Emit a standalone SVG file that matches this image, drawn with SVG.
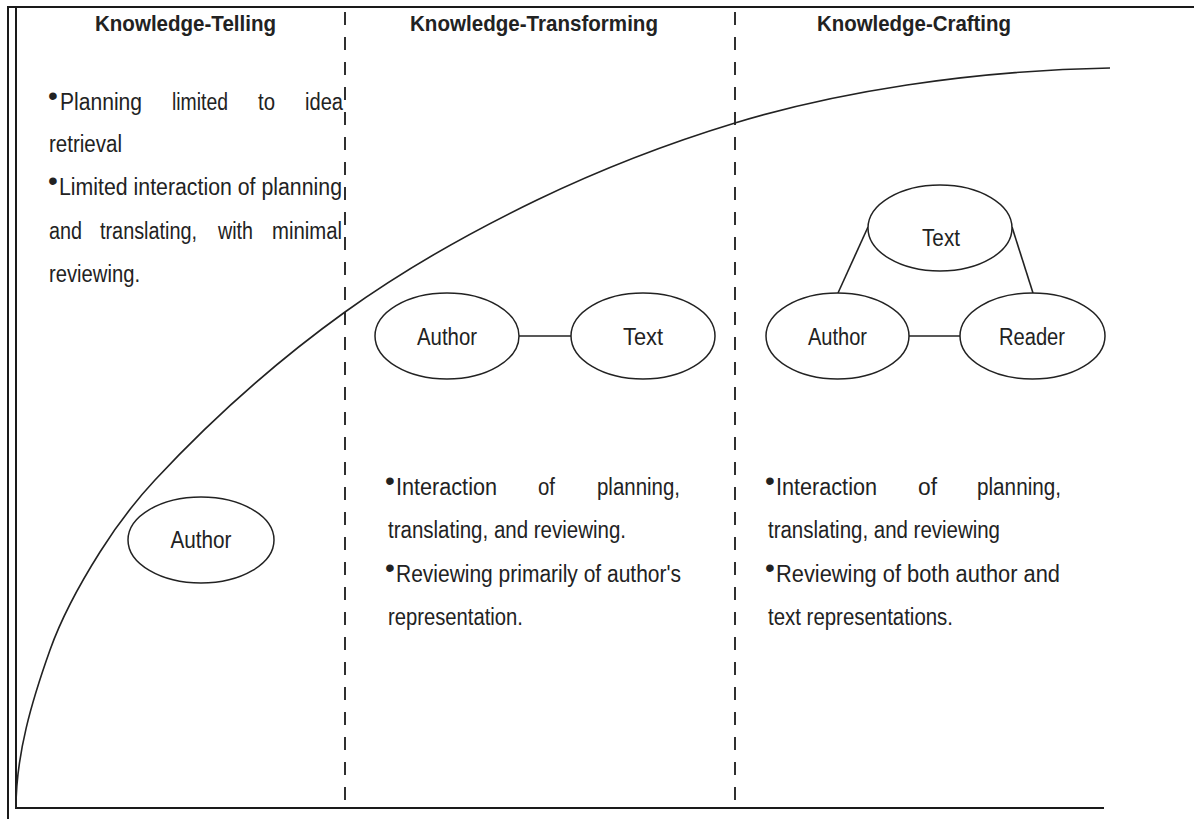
<svg xmlns="http://www.w3.org/2000/svg" width="1194" height="819" viewBox="0 0 1194 819">
<style>
.frame{stroke:#1a1a1a;stroke-width:2;fill:none}
.dash{stroke:#1a1a1a;stroke-width:1.8;stroke-dasharray:13 12;fill:none}
.curve{stroke:#222;stroke-width:1.6;fill:none}
.node ellipse{fill:#fff;stroke:#222;stroke-width:1.5}
.conn line{stroke:#222;stroke-width:1.6}
.title{font-family:"Liberation Sans Narrow","Liberation Sans",Arial,sans-serif;font-weight:bold;font-size:22px;fill:#222}
.body{font-family:"Liberation Sans Narrow","Liberation Sans",Arial,sans-serif;font-size:23px;fill:#222}
.lbl{font-family:"Liberation Sans Narrow","Liberation Sans",Arial,sans-serif;font-size:23px;fill:#222;text-anchor:middle}
.bul{font-size:28px}
</style>
<rect width="1194" height="819" fill="#fff"/>
<g id="frame">
<line class="frame" x1="8" y1="7" x2="1194" y2="7"/>
<line class="frame" x1="8" y1="6" x2="8" y2="819"/>
<line class="frame" x1="16" y1="7" x2="16" y2="809"/>
<line class="frame" x1="15" y1="808" x2="1104" y2="808"/>
<line class="dash" x1="345" y1="12" x2="345" y2="808"/>
<line class="dash" x1="735" y1="12" x2="735" y2="808"/>
<path class="curve" d="M16,808 C16,754 31.9,700.9 50,650 C62.3,615.4 80.4,583 100,552 C116.1,526.4 134.4,502.1 155,480 C212.6,418.2 276.4,361.3 345,312 C405.2,268.7 470.2,232.2 537,200 C600.8,169.3 667.2,143.6 735,123 C791.2,105.9 849,93.8 907,85 C974.2,74.8 1042.1,69.2 1110,68"/>
</g>
<g id="titles">
<text class="title" x="95" y="31" textLength="181" lengthAdjust="spacingAndGlyphs">Knowledge-Telling</text>
<text class="title" x="410" y="31" textLength="248" lengthAdjust="spacingAndGlyphs">Knowledge-Transforming</text>
<text class="title" x="817" y="31" textLength="194" lengthAdjust="spacingAndGlyphs">Knowledge-Crafting</text>
</g>
<g id="kt-text">
<text class="body" y="110"><tspan class="bul" x="48" dy="-5">•</tspan><tspan x="60" dy="5" textLength="82" lengthAdjust="spacingAndGlyphs">Planning</tspan> <tspan x="172" textLength="56" lengthAdjust="spacingAndGlyphs">limited</tspan> <tspan x="258" textLength="17" lengthAdjust="spacingAndGlyphs">to</tspan> <tspan x="305" textLength="38" lengthAdjust="spacingAndGlyphs">idea</tspan></text>
<text class="body" x="49" y="152" textLength="73" lengthAdjust="spacingAndGlyphs">retrieval</text>
<text class="body" y="195"><tspan class="bul" x="48" dy="-5">•</tspan><tspan x="59" dy="5" textLength="283" lengthAdjust="spacingAndGlyphs">Limited interaction of planning</tspan></text>
<text class="body" y="239"><tspan x="49" textLength="33" lengthAdjust="spacingAndGlyphs">and</tspan> <tspan x="100" textLength="97" lengthAdjust="spacingAndGlyphs">translating,</tspan> <tspan x="218" textLength="35" lengthAdjust="spacingAndGlyphs">with</tspan> <tspan x="272" textLength="70" lengthAdjust="spacingAndGlyphs">minimal</tspan></text>
<text class="body" x="49" y="282" textLength="91" lengthAdjust="spacingAndGlyphs">reviewing.</text>
</g>
<g id="ktr-text">
<text class="body" y="495"><tspan class="bul" x="385" dy="-5">•</tspan><tspan x="396" dy="5" textLength="101" lengthAdjust="spacingAndGlyphs">Interaction</tspan> <tspan x="538" textLength="17" lengthAdjust="spacingAndGlyphs">of</tspan> <tspan x="597" textLength="83" lengthAdjust="spacingAndGlyphs">planning,</tspan></text>
<text class="body" x="388" y="538" textLength="238" lengthAdjust="spacingAndGlyphs">translating, and reviewing.</text>
<text class="body" y="582"><tspan class="bul" x="385" dy="-5">•</tspan><tspan x="396" dy="5" textLength="285" lengthAdjust="spacingAndGlyphs">Reviewing primarily of author's</tspan></text>
<text class="body" x="388" y="625" textLength="135" lengthAdjust="spacingAndGlyphs">representation.</text>
</g>
<g id="kc-text">
<text class="body" y="495"><tspan class="bul" x="765" dy="-5">•</tspan><tspan x="776" dy="5" textLength="101" lengthAdjust="spacingAndGlyphs">Interaction</tspan> <tspan x="918" textLength="19" lengthAdjust="spacingAndGlyphs">of</tspan> <tspan x="977" textLength="84" lengthAdjust="spacingAndGlyphs">planning,</tspan></text>
<text class="body" x="768" y="538" textLength="232" lengthAdjust="spacingAndGlyphs">translating, and reviewing</text>
<text class="body" y="582"><tspan class="bul" x="765" dy="-5">•</tspan><tspan x="776" dy="5" textLength="284" lengthAdjust="spacingAndGlyphs">Reviewing of both author and</tspan></text>
<text class="body" x="768" y="625" textLength="185" lengthAdjust="spacingAndGlyphs">text representations.</text>
</g>
<g id="connectors" class="conn">
<line x1="519" y1="336" x2="571" y2="336"/>
<line x1="909" y1="336" x2="960" y2="336"/>
<line x1="868" y1="227" x2="838" y2="293"/>
<line x1="1012" y1="227" x2="1033" y2="293"/>
</g>
<g id="kt-author" class="node">
<ellipse cx="201" cy="540" rx="73" ry="43"/>
<text class="lbl" x="201" y="548" textLength="61" lengthAdjust="spacingAndGlyphs">Author</text>
</g>
<g id="ktr-author" class="node">
<ellipse cx="447" cy="336" rx="72" ry="43"/>
<text class="lbl" x="447" y="345" textLength="60" lengthAdjust="spacingAndGlyphs">Author</text>
</g>
<g id="ktr-text-node" class="node">
<ellipse cx="643" cy="336" rx="72" ry="43"/>
<text class="lbl" x="643" y="345" textLength="40" lengthAdjust="spacingAndGlyphs">Text</text>
</g>
<g id="kc-text-node" class="node">
<ellipse cx="940" cy="228" rx="72" ry="43"/>
<text class="lbl" x="941" y="246" textLength="38" lengthAdjust="spacingAndGlyphs">Text</text>
</g>
<g id="kc-author" class="node">
<ellipse cx="837.5" cy="336" rx="71.5" ry="43"/>
<text class="lbl" x="837.5" y="345" textLength="59" lengthAdjust="spacingAndGlyphs">Author</text>
</g>
<g id="kc-reader" class="node">
<ellipse cx="1032.5" cy="336" rx="72.5" ry="43"/>
<text class="lbl" x="1032" y="345" textLength="66" lengthAdjust="spacingAndGlyphs">Reader</text>
</g>
</svg>
